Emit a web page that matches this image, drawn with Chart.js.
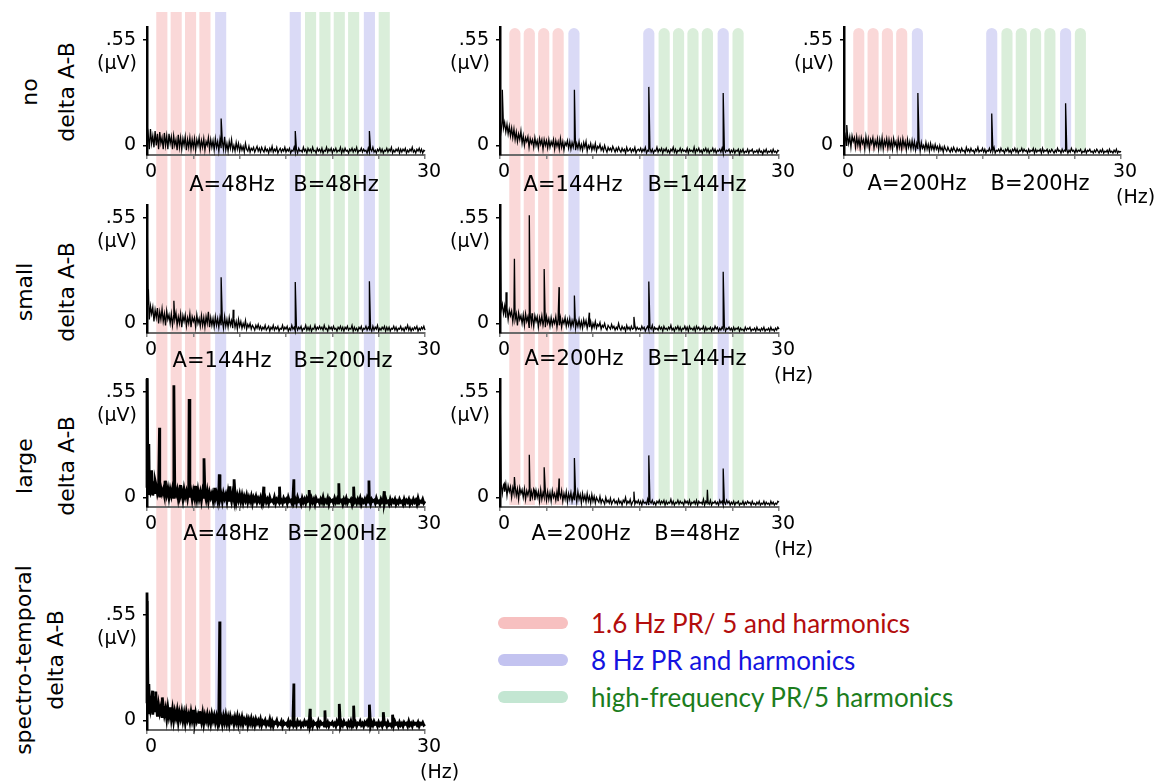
<!DOCTYPE html>
<html>
<head>
<meta charset="utf-8">
<script src="https://cdn.jsdelivr.net/npm/chart.js@4.4.1/dist/chart.umd.min.js"></script>
<style>
  html, body { margin: 0; padding: 0; background: #fff; }
  body { width: 1164px; height: 784px; position: relative; overflow: hidden; font-family: "DejaVu Sans", sans-serif; }
  canvas { position: absolute; }
  .bands { z-index: 0; }
  .panel { z-index: 2; }
  .txt { position: absolute; z-index: 1; white-space: nowrap; color: #000; line-height: 1; }
  .ab { font-size: 21px; transform: translate(-50%, -50%); }
  .rowlab { font-size: 22px; transform: translate(-50%, -50%) rotate(-90deg); }
  .swatch { position: absolute; width: 70px; height: 12px; border-radius: 6px; }
  .legtext { position: absolute; font-family: Lato, sans-serif; font-size: 26px; line-height: 1; transform: translateY(-50%); white-space: nowrap; }
</style>
</head>
<body>
<script>
// ---- data ----
const freqStep = 0.125;             // Hz between spectrum bins (0..30 Hz)
const xTickLabels = [0, 30];
const yTickValues = [0, 0.55];
const yTickLabels = ['0', '.55'];

// harmonic bands (Hz)
const bandPink = [1.6, 3.15, 4.7, 6.25];
const bandBlue = [7.95, 16.0, 24.0];
const bandGreen = [17.65, 19.2, 20.75, 22.3, 25.6];

const legendItems = ['1.6 Hz PR/ 5 and harmonics', '8 Hz PR and harmonics', 'high-frequency PR/5 harmonics'];
const rowTitles = [['no', 'delta A-B'], ['small', 'delta A-B'], ['large', 'delta A-B'], ['spectro-temporal', 'delta A-B']];

// noise floor, one value per bin (uV); 20 bins per line = 2.5 Hz
const noiseNo48 = [
  .02,.06,-.02,.085,.01,.05,-.01,.075,.00,.06,-.02,.07,.01,.04,-.02,.065,.00,.05,-.02,.06,
  .01,.045,-.02,.05,.00,.03,-.025,.055,-.01,.04,-.02,.035,.00,.045,-.025,.03,-.01,.04,-.02,.03,
  -.01,.035,-.025,.03,.00,.04,-.02,.025,-.01,.035,-.025,.02,.00,.04,-.02,.03,-.01,.025,-.025,.035,
  -.01,.02,-.03,.03,-.015,.025,-.02,.045,-.025,.01,-.03,.02,-.015,.03,-.025,.00,-.03,.015,-.02,.01,
  -.03,.00,-.025,-.005,-.035,.01,-.02,-.03,-.005,-.035,-.015,-.025,-.01,-.035,-.02,-.005,-.03,-.015,-.035,-.01,
  -.025,-.035,-.01,-.03,-.02,-.04,-.015,-.03,-.005,-.035,-.02,-.03,-.01,-.04,-.025,-.015,-.035,-.02,-.03,-.01,
  -.035,-.02,-.03,-.015,-.04,-.025,-.03,-.01,-.035,-.02,-.04,-.015,-.03,-.025,-.035,-.01,-.03,-.02,-.04,-.015,
  -.03,-.02,-.035,-.01,-.03,-.025,-.04,-.015,-.03,-.02,-.035,-.015,-.04,-.025,-.03,-.01,-.035,-.02,-.03,-.015,
  -.04,-.02,-.03,-.015,-.035,-.025,-.03,-.01,-.04,-.02,-.035,-.015,-.03,-.025,-.04,-.02,-.03,-.015,-.035,-.02,
  -.03,-.01,-.04,-.025,-.03,-.015,-.035,-.02,-.03,-.025,-.04,-.015,-.035,-.02,-.03,-.01,-.035,-.025,-.04,-.02,
  -.03,-.015,-.035,-.02,-.04,-.025,-.03,-.015,-.035,-.02,-.03,-.01,-.04,-.025,-.035,-.02,-.03,-.015,-.04,-.02,
  -.035,-.02,-.03,-.015,-.04,-.025,-.035,-.02,-.03,-.01,-.035,-.025,-.04,-.02,-.03,-.015,-.035,-.02,-.04,-.025,
  -.03
];
const noiseNo144 = [
  .03,.08,.13,.09,.12,.07,.11,.06,.10,.05,.09,.04,.085,.03,.07,.02,.06,.03,.075,.01,
  .05,.00,.04,.02,.045,-.01,.035,.01,.03,-.01,.04,.00,.025,-.015,.035,.005,.03,-.02,.03,.00,
  .025,-.015,.03,-.01,.02,.00,.03,-.02,.025,-.005,.02,-.02,.035,-.01,.02,-.025,.015,.00,.025,-.015,
  .02,-.02,.015,-.01,.025,-.025,.01,-.015,.02,-.02,.005,-.025,.015,-.01,.02,-.03,.00,-.015,.01,-.025,
  .00,-.02,.01,-.03,-.005,-.015,.005,-.025,-.01,-.03,.00,-.02,-.035,-.01,-.025,-.015,-.03,-.005,-.02,-.035,
  -.015,-.03,-.01,-.025,-.035,-.015,-.03,-.02,-.04,-.01,-.03,-.025,-.015,-.035,-.02,-.03,-.01,-.04,-.025,-.02,
  -.03,-.015,-.035,-.02,-.03,-.01,-.04,-.025,-.03,-.015,-.035,-.02,-.04,-.025,-.03,-.01,-.035,-.02,-.03,-.015,
  -.04,-.02,-.03,-.015,-.035,-.025,-.04,-.02,-.03,-.01,-.035,-.02,-.04,-.025,-.03,-.015,-.035,-.02,-.03,-.025,
  -.035,-.015,-.04,-.02,-.03,-.025,-.035,-.01,-.04,-.02,-.03,-.015,-.035,-.025,-.04,-.02,-.03,-.015,-.035,-.02,
  -.04,-.025,-.03,-.015,-.035,-.02,-.04,-.025,-.03,-.02,-.035,-.015,-.04,-.02,-.035,-.025,-.03,-.02,-.04,-.025,
  -.035,-.02,-.04,-.025,-.03,-.02,-.045,-.025,-.035,-.02,-.04,-.03,-.035,-.02,-.04,-.025,-.03,-.02,-.04,-.03,
  -.035,-.025,-.04,-.02,-.035,-.03,-.045,-.025,-.035,-.02,-.04,-.03,-.035,-.025,-.04,-.02,-.035,-.03,-.04,-.025,
  -.03
];
const noiseNo200 = [
  .02,.05,.00,.055,.01,.045,-.01,.05,.02,.04,-.01,.045,.00,.035,-.015,.04,.01,.03,-.02,.045,
  .00,.035,-.02,.03,.01,.04,-.015,.025,.00,.035,-.02,.03,-.01,.04,-.02,.025,.00,.035,-.015,.03,
  -.01,.025,-.02,.035,.00,.02,-.025,.03,-.01,.025,-.02,.035,-.005,.02,-.025,.03,-.01,.02,-.02,.025,
  -.015,.02,-.025,.01,-.02,.025,-.03,.015,-.015,.00,-.025,.015,-.02,.005,-.03,.01,-.02,.00,-.025,.005,
  -.02,-.005,-.03,.00,-.025,-.01,-.035,-.005,-.02,-.03,-.01,-.025,-.035,-.015,-.03,-.01,-.025,-.035,-.015,-.03,
  -.02,-.035,-.015,-.03,-.025,-.04,-.01,-.03,-.02,-.035,-.015,-.03,-.025,-.04,-.02,-.03,-.01,-.035,-.025,-.03,
  -.015,-.035,-.02,-.04,-.025,-.03,-.015,-.035,-.02,-.03,-.01,-.04,-.025,-.03,-.02,-.035,-.015,-.03,-.025,-.04,
  -.02,-.03,-.015,-.035,-.025,-.04,-.02,-.03,-.015,-.035,-.02,-.04,-.025,-.03,-.015,-.035,-.02,-.03,-.025,-.04,
  -.02,-.035,-.025,-.03,-.015,-.04,-.02,-.035,-.025,-.03,-.02,-.04,-.015,-.035,-.025,-.03,-.02,-.04,-.025,-.035,
  -.02,-.03,-.04,-.025,-.035,-.015,-.03,-.025,-.04,-.02,-.035,-.025,-.03,-.02,-.04,-.025,-.035,-.015,-.03,-.025,
  -.04,-.02,-.035,-.025,-.03,-.02,-.04,-.03,-.035,-.02,-.04,-.025,-.03,-.02,-.035,-.03,-.04,-.025,-.035,-.02,
  -.03,-.04,-.025,-.035,-.02,-.04,-.03,-.035,-.025,-.04,-.02,-.035,-.03,-.04,-.025,-.035,-.02,-.04,-.03,-.035,
  -.03
];
const noiseSmall144_200 = [
  .04,.10,.02,.09,.05,.085,.01,.07,.03,.08,.00,.06,.02,.075,.01,.05,-.01,.065,.02,.045,
  .00,.05,-.01,.04,.02,.055,-.01,.035,.00,.05,-.02,.04,.01,.045,-.015,.03,.00,.05,-.02,.035,
  .01,.03,-.02,.045,.00,.025,-.015,.04,-.01,.03,-.02,.035,.00,.06,-.02,.03,-.01,.025,-.02,.035,
  -.01,.025,-.02,.03,-.01,.02,-.025,.035,-.015,.02,-.02,.03,-.01,.015,-.025,.025,-.02,.01,-.03,.02,
  -.015,.01,-.025,.00,-.02,.015,-.03,-.005,-.02,.00,-.03,-.01,-.02,-.035,-.01,-.025,-.005,-.03,-.015,-.035,
  -.02,-.03,-.01,-.035,-.025,-.015,-.04,-.02,-.03,-.01,-.035,-.02,-.03,-.015,-.04,-.025,-.03,-.01,-.035,-.02,
  -.03,-.015,-.04,-.025,-.035,-.01,-.03,-.02,-.04,-.015,-.035,-.02,-.03,-.015,-.04,-.025,-.03,-.01,-.035,-.02,
  -.035,-.015,-.04,-.025,-.03,-.01,-.035,-.02,-.03,-.015,-.03,-.02,-.035,-.01,-.03,-.025,-.04,-.015,-.03,-.02,
  -.035,-.015,-.03,-.025,-.04,-.02,-.03,-.015,-.035,-.02,-.04,-.02,-.03,-.015,-.035,-.025,-.03,-.01,-.04,-.02,
  -.035,-.025,-.04,-.02,-.03,-.015,-.04,-.025,-.03,-.015,-.035,-.02,-.03,-.025,-.04,-.015,-.035,-.02,-.03,-.01,
  -.04,-.025,-.035,-.02,-.03,-.015,-.04,-.02,-.035,-.02,-.04,-.025,-.03,-.015,-.035,-.02,-.04,-.025,-.03,-.015,
  -.035,-.025,-.04,-.02,-.03,-.01,-.035,-.02,-.04,-.025,-.035,-.02,-.03,-.015,-.04,-.025,-.035,-.02,-.03,-.015,
  -.035
];
const noiseSmall200_144 = [
  .03,.07,.10,.05,.09,.03,.08,.02,.07,.04,.065,.01,.06,.02,.05,-.01,.055,.02,.04,.00,
  .045,-.01,.05,.01,.035,-.02,.045,.00,.03,-.015,.04,.01,.035,-.02,.03,.00,.04,-.01,.025,-.02,
  .035,.00,.025,-.015,.03,-.01,.02,.00,.035,-.02,.025,-.01,.03,-.02,.02,.00,.03,-.015,.02,-.01,
  .025,-.02,.015,-.01,.03,-.025,.01,-.015,.02,-.02,.01,-.025,.02,-.01,.015,-.025,.005,-.02,.01,-.03,
  .00,-.02,.01,-.025,-.005,-.015,.005,-.03,-.01,-.02,.00,-.025,-.035,-.01,-.02,-.03,-.005,-.025,-.015,-.035,
  -.02,-.03,.00,-.025,-.035,-.015,-.03,-.02,-.04,-.01,-.03,-.02,-.035,-.015,-.03,-.025,-.01,-.035,-.02,-.03,
  -.025,-.035,-.015,-.03,-.02,-.04,-.025,-.015,-.035,-.02,-.03,-.01,-.04,-.02,-.03,-.025,-.035,-.015,-.03,-.02,
  -.04,-.015,-.03,-.025,-.035,-.02,-.03,-.01,-.035,-.025,-.04,-.02,-.03,-.015,-.035,-.02,-.04,-.025,-.03,-.015,
  -.035,-.02,-.04,-.015,-.03,-.025,-.035,-.02,-.04,-.015,-.03,-.02,-.035,-.025,-.03,-.015,-.04,-.02,-.035,-.025,
  -.03,-.02,-.04,-.025,-.035,-.015,-.03,-.02,-.04,-.025,-.035,-.02,-.03,-.015,-.04,-.025,-.03,-.02,-.035,-.025,
  -.04,-.02,-.035,-.025,-.03,-.02,-.04,-.025,-.035,-.03,-.04,-.02,-.035,-.025,-.03,-.02,-.04,-.03,-.035,-.025,
  -.04,-.02,-.035,-.03,-.04,-.025,-.035,-.02,-.04,-.03,-.035,-.025,-.04,-.02,-.035,-.03,-.04,-.025,-.035,-.02,
  -.03
];
const noiseLarge48_200 = [
  .05,.02,.06,.03,.055,.01,.05,.025,.06,.02,.045,.00,.05,.02,.04,.01,.055,.015,.045,.00,
  .04,.01,.045,.00,.035,.015,.04,-.005,.035,.01,.03,-.01,.04,.005,.03,-.005,.035,.00,.03,-.01,
  .03,.00,.025,-.01,.035,-.005,.025,-.015,.03,.00,.02,-.01,.03,-.015,.025,.00,.02,-.015,.03,-.005,
  .02,-.015,.025,-.01,.015,-.02,.02,-.005,.015,-.02,.025,-.015,.01,-.02,.02,-.01,.015,-.025,.01,-.015,
  .015,-.02,.01,-.025,.005,-.015,.01,-.025,.00,-.02,.005,-.03,.00,-.015,.005,-.025,-.005,-.02,.00,-.03,
  -.005,-.02,.00,-.025,-.01,-.03,.00,-.02,-.015,-.025,.00,-.03,-.01,-.02,.005,-.025,-.015,-.03,-.005,-.02,
  -.01,-.03,.00,-.02,-.015,-.03,-.005,-.025,-.01,-.03,.00,-.02,-.015,-.035,-.005,-.025,-.01,-.03,-.005,-.02,
  -.015,-.03,-.005,-.025,-.01,-.035,-.005,-.02,-.015,-.03,-.01,-.025,.00,-.03,-.015,-.025,-.005,-.035,-.01,-.02,
  -.015,-.03,-.005,-.025,-.01,-.03,-.005,-.02,-.015,-.035,-.01,-.025,-.005,-.03,-.015,-.02,-.01,-.035,-.005,-.025,
  -.015,-.03,-.01,-.025,-.005,-.035,-.015,-.025,-.01,-.03,-.005,-.025,-.015,-.035,-.01,-.02,-.015,-.03,-.005,-.025,
  -.02,-.035,-.01,-.025,-.015,-.03,-.005,-.025,-.02,-.035,-.01,-.03,-.015,-.025,-.01,-.035,-.02,-.03,-.01,-.025,
  -.02,-.035,-.01,-.03,-.015,-.025,-.01,-.035,-.02,-.03,-.01,-.025,-.015,-.035,-.005,-.03,-.02,-.025,-.01,-.03,
  -.02
];
const noiseLarge200_48 = [
  .04,.07,.02,.065,.03,.07,.01,.06,.03,.055,.00,.05,.02,.06,.01,.045,-.01,.05,.02,.04,
  .00,.045,-.01,.035,.01,.04,-.02,.03,.00,.045,-.015,.035,.00,.03,-.02,.04,-.01,.025,.00,.035,
  -.015,.03,-.01,.025,-.02,.035,.00,.02,-.015,.03,-.02,.025,.00,.035,-.02,.02,-.01,.03,-.025,.02,
  -.01,.025,-.02,.015,-.015,.02,-.025,.03,-.01,.015,-.03,.02,-.015,.01,-.025,.02,-.02,.005,-.03,.015,
  -.02,.005,-.03,.00,-.015,-.025,.005,-.03,-.01,-.02,-.035,.00,-.025,-.015,-.03,-.005,-.035,-.02,-.01,-.03,
  -.02,-.035,-.01,-.03,-.02,-.04,-.015,-.025,.00,-.035,-.02,-.03,-.01,-.04,-.025,-.015,-.035,-.02,-.03,-.015,
  -.035,-.02,-.04,-.015,-.03,-.025,-.035,-.01,-.04,-.02,-.03,-.015,-.035,-.025,-.04,-.02,-.03,-.015,-.035,-.02,
  -.03,-.015,-.04,-.02,-.035,-.025,-.03,-.01,-.035,-.02,-.04,-.025,-.03,-.015,-.035,-.02,-.03,-.025,-.04,-.015,
  -.03,-.02,-.035,-.015,-.04,-.025,-.03,-.02,-.035,-.015,-.04,-.02,-.03,-.025,-.035,-.01,-.04,-.02,-.03,-.025,
  -.035,-.015,-.04,-.025,-.03,-.02,-.035,-.025,-.04,-.015,-.03,-.02,-.04,-.025,-.035,-.015,-.03,-.02,-.04,-.025,
  -.035,-.02,-.04,-.025,-.03,-.02,-.04,-.03,-.035,-.02,-.04,-.025,-.035,-.02,-.03,-.025,-.04,-.02,-.035,-.03,
  -.04,-.025,-.035,-.02,-.04,-.03,-.035,-.02,-.04,-.025,-.035,-.03,-.04,-.02,-.035,-.025,-.04,-.03,-.035,-.02,
  -.025
];
const noiseSpectro48_200 = [
  .09,.04,.11,.06,.10,.03,.09,.05,.085,.02,.08,.04,.07,.02,.075,.03,.06,.01,.065,.02,
  .05,.01,.055,.00,.045,.015,.05,-.005,.04,.01,.045,.00,.035,-.01,.04,.005,.03,-.005,.04,.00,
  .03,-.01,.035,.00,.025,-.01,.03,-.005,.035,-.015,.025,.00,.03,-.01,.02,-.015,.03,.00,.025,-.01,
  .02,-.015,.025,-.005,.015,-.02,.02,-.01,.025,-.015,.015,-.02,.02,-.005,.01,-.02,.015,-.01,.02,-.02,
  .01,-.015,.015,-.02,.005,-.01,.01,-.025,.005,-.015,.01,-.02,.00,-.025,.005,-.015,.00,-.02,.005,-.025,
  -.005,-.015,.00,-.025,-.01,-.02,.005,-.025,-.005,-.03,-.01,-.015,.00,-.025,-.015,-.02,-.005,-.03,-.01,-.02,
  -.015,-.025,-.005,-.03,-.01,-.02,.00,-.025,-.015,-.03,-.005,-.02,-.01,-.03,-.015,-.025,-.005,-.02,-.01,-.03,
  -.015,-.025,-.005,-.03,-.01,-.02,-.015,-.03,-.005,-.025,-.01,-.02,-.015,-.03,-.005,-.025,-.01,-.03,-.015,-.02,
  -.01,-.025,-.015,-.03,-.005,-.02,-.015,-.03,-.01,-.025,-.005,-.02,-.015,-.03,-.01,-.025,-.005,-.03,-.015,-.02,
  -.01,-.03,-.015,-.02,-.005,-.025,-.015,-.03,-.01,-.02,-.005,-.025,-.015,-.03,-.01,-.025,-.005,-.02,-.015,-.03,
  -.01,-.025,-.015,-.03,-.005,-.02,-.015,-.03,-.01,-.025,-.02,-.03,-.01,-.025,-.005,-.02,-.015,-.03,-.01,-.025,
  -.015,-.03,-.01,-.02,-.015,-.03,-.005,-.025,-.015,-.03,-.01,-.02,-.015,-.025,-.01,-.03,-.015,-.02,-.01,-.025,
  -.02
];

// spectral peaks [Hz, uV]
const peaksNo48 = [[8, .14], [16, .075], [24, .075]];
const peaksNo144 = [[0.25, .29], [8, .29], [16, .305], [24, .273]];
const peaksNo200 = [[0.3, .106], [8, .273], [16, .166], [24, .22]];
const peaksSmall144_200 = [[0, .61], [0.15, .178], [2.9, .118], [8, .24], [9.3, .071], [16, .216], [24, .22]];
const peaksSmall200_144 = [[0, .61], [0.65, .162], [1.55, .337], [3.15, .564], [3.45, .053], [4.75, .283],
  [6.35, .189], [8, .145], [9.6, .056], [14.4, .034], [16, .218], [24, .269]];
const peaksLarge48_200 = [[0, .618], [0.2, .278], [0.5, .141], [0.9, .082], [1.35, .363], [1.95, .087],
  [2.9, .584], [3.6, .065], [4.55, .513], [5.2, .06], [6.15, .204], [7.3, .05], [7.8, .12], [8.95, .058],
  [9.4, .094], [12.6, .056], [14.3, .056], [15.85, .094], [17.5, .038], [20.7, .074], [22.3, .056],
  [23.95, .088], [25.6, .032]];
const peaksLarge200_48 = [[0, .609], [0.45, .072], [1.55, .106], [3.15, .222], [3.7, .037], [4.75, .157],
  [6.35, .099], [8, .205], [14.4, .03], [16, .219], [22.3, .04], [24, .15]];
const peaksSpectro48_200 = [[0, .667], [0.2, .189], [0.6, .155], [0.95, .15], [1.65, .12], [2.5, .069],
  [5.0, .055], [5.7, .048], [7.85, .515], [15.85, .192], [17.6, .06], [19.2, .052], [20.75, .086],
  [22.3, .077], [24, .082], [25.5, .043], [26.5, .03]];

// ---- layout ----
const COLS = [{ left: 147, right: 425 }, { left: 500, right: 779 }, { left: 844, right: 1121 }];
const ROW_BOTTOM = [155, 333, 507, 730];
const PLOT_H = 130, Y_AXIS_W = 62, X_AXIS_H = 30, PAD_T = 16, PAD_R = 50, PAD_B = 34;
const Y_MIN = -0.05, Y_MAX = 0.615;
const BAND_W = 1.2; // Hz
const BAND_SPAN = [
  { top: 12, bottom: 717, round: 'none' },
  { top: 28, bottom: 505, round: 'top' },
  { top: 28, bottom: 151, round: 'both' }
];
const BAND_COLORS = { pink: '#fad8d8', blue: '#dadaf6', green: '#daeeda' };
const TICK_FONT = { family: 'DejaVu Sans', size: 19 };

const panels = [
  { col: 0, row: 0, noise: noiseNo48, peaks: peaksNo48, thick: false, hz: false, ab: [['A=48Hz', 232, 184], ['B=48Hz', 336, 184]] },
  { col: 1, row: 0, noise: noiseNo144, peaks: peaksNo144, thick: false, hz: false, ab: [['A=144Hz', 573, 184], ['B=144Hz', 697, 184]] },
  { col: 2, row: 0, noise: noiseNo200, peaks: peaksNo200, thick: false, hz: true, ab: [['A=200Hz', 917, 183], ['B=200Hz', 1040, 183]] },
  { col: 0, row: 1, noise: noiseSmall144_200, peaks: peaksSmall144_200, thick: false, hz: false, ab: [['A=144Hz', 222, 360], ['B=200Hz', 343, 360]] },
  { col: 1, row: 1, noise: noiseSmall200_144, peaks: peaksSmall200_144, thick: false, hz: true, ab: [['A=200Hz', 574, 358], ['B=144Hz', 697, 358]] },
  { col: 0, row: 2, noise: noiseLarge48_200, peaks: peaksLarge48_200, thick: true, hz: false, ab: [['A=48Hz', 226, 533], ['B=200Hz', 337, 533]] },
  { col: 1, row: 2, noise: noiseLarge200_48, peaks: peaksLarge200_48, thick: false, hz: true, ab: [['A=200Hz', 581, 533], ['B=48Hz', 697, 533]] },
  { col: 0, row: 3, noise: noiseSpectro48_200, peaks: peaksSpectro48_200, thick: true, hz: true, ab: [] }
];

Chart.defaults.font.family = 'DejaVu Sans';
Chart.defaults.color = '#000';

function addText(cls, text, x, y) {
  const d = document.createElement('div');
  d.className = 'txt ' + cls;
  d.textContent = text;
  d.style.left = x + 'px';
  d.style.top = y + 'px';
  document.body.appendChild(d);
  return d;
}

function spectrum(noise, peaks) {
  const pts = noise.map((v, i) => ({ x: i * freqStep, y: v }));
  peaks.forEach(([f, a]) => pts.push({ x: f, y: a }));
  pts.sort((p, q) => p.x - q.x);
  return pts;
}

// bands drawn behind each column of panels
function makeBands(c) {
  const L = COLS[c], S = BAND_SPAN[c];
  const cv = document.createElement('canvas');
  cv.className = 'bands';
  cv.width = L.right - L.left;
  cv.height = S.bottom - S.top;
  cv.style.left = L.left + 'px';
  cv.style.top = S.top + 'px';
  document.body.appendChild(cv);

  const bandPlugin = {
    id: 'bands',
    beforeDraw(chart) {
      const { ctx, chartArea, scales: { x } } = chart;
      const groups = [[bandPink, BAND_COLORS.pink], [bandBlue, BAND_COLORS.blue], [bandGreen, BAND_COLORS.green]];
      ctx.save();
      groups.forEach(([centers, color]) => {
        ctx.fillStyle = color;
        centers.forEach(f => {
          const x0 = x.getPixelForValue(f - BAND_W / 2);
          const x1 = x.getPixelForValue(f + BAND_W / 2);
          const r = (x1 - x0) / 2;
          const radii = S.round === 'both' ? [r, r, r, r] : S.round === 'top' ? [r, r, 0, 0] : [0, 0, 0, 0];
          ctx.beginPath();
          ctx.roundRect(x0, chartArea.top, x1 - x0, chartArea.bottom - chartArea.top, radii);
          ctx.fill();
        });
      });
      ctx.restore();
    }
  };

  new Chart(cv, {
    type: 'scatter',
    data: { datasets: [] },
    options: {
      responsive: false, animation: false, devicePixelRatio: 1,
      layout: { padding: 0 },
      plugins: { legend: { display: false }, tooltip: { enabled: false } },
      scales: {
        x: { type: 'linear', min: 0, max: 30, display: false },
        y: { min: 0, max: 1, display: false }
      }
    },
    plugins: [bandPlugin]
  });
}

function makePanel(p) {
  const L = COLS[p.col];
  const bottom = ROW_BOTTOM[p.row];
  const cv = document.createElement('canvas');
  cv.className = 'panel';
  cv.width = Y_AXIS_W + (L.right - L.left) + PAD_R;
  cv.height = PAD_T + PLOT_H + X_AXIS_H + PAD_B;
  cv.style.left = (L.left - Y_AXIS_W) + 'px';
  cv.style.top = (bottom - PLOT_H - PAD_T) + 'px';
  document.body.appendChild(cv);

  const unitPlugin = {
    id: 'units',
    afterDraw(chart) {
      const { ctx, chartArea, scales: { x, y } } = chart;
      ctx.save();
      ctx.font = TICK_FONT.size + 'px "DejaVu Sans"';
      ctx.fillStyle = '#000';
      ctx.textBaseline = 'middle';
      ctx.textAlign = 'right';
      ctx.fillText('(\u03BCV)', chartArea.left - 10, y.getPixelForValue(0.55) + 24);
      if (p.hz) {
        ctx.textAlign = 'left';
        ctx.fillText('(Hz)', x.getPixelForValue(30) - 5, chartArea.bottom + 43);
      }
      ctx.restore();
    }
  };

  new Chart(cv, {
    type: 'line',
    data: {
      datasets: [{
        data: spectrum(p.noise, p.peaks),
        borderColor: '#000',
        borderWidth: p.thick ? 2.8 : 1.3,
        pointRadius: 0,
        tension: 0,
        fill: false,
        clip: false
      }]
    },
    options: {
      responsive: false, animation: false, devicePixelRatio: 1,
      layout: { padding: { top: PAD_T, right: PAD_R, bottom: PAD_B, left: 0 } },
      plugins: { legend: { display: false }, tooltip: { enabled: false } },
      scales: {
        x: {
          type: 'linear', min: 0, max: 30,
          afterFit: s => { s.height = X_AXIS_H; },
          ticks: {
            stepSize: 5, autoSkip: false, maxRotation: 0, padding: 2, labelOffset: 4,
            font: TICK_FONT, color: '#000',
            callback: v => xTickLabels.includes(v) ? String(v) : ''
          },
          grid: { drawOnChartArea: false, drawTicks: true, tickLength: 4, color: '#808080', lineWidth: 1.5 },
          border: { display: true, color: '#6a6a6a', width: 2 }
        },
        y: {
          min: Y_MIN, max: Y_MAX,
          afterFit: s => { s.width = Y_AXIS_W; },
          afterBuildTicks: s => { s.ticks = yTickValues.map(v => ({ value: v })); },
          ticks: {
            padding: 7, font: TICK_FONT, color: '#000',
            callback: (v, i) => yTickLabels[i]
          },
          grid: { drawOnChartArea: false, drawTicks: true, tickLength: 4, color: '#000', lineWidth: 1.5 },
          border: { display: true, color: '#000', width: 2.5 }
        }
      }
    },
    plugins: [unitPlugin]
  });

  p.ab.forEach(([t, x, y]) => addText('ab', t, x, y));
}

[0, 1, 2].forEach(makeBands);
panels.forEach(makePanel);

// row titles (rotated), [line1 centre x, line2 centre x, centre y]
const rowTitlePos = [[30, 67, 92], [25, 67, 292], [25, 67, 466], [24, 56, 660]];
rowTitles.forEach((lines, r) => {
  const [x1, x2, cy] = rowTitlePos[r];
  addText('rowlab', lines[0], x1, cy);
  addText('rowlab', lines[1], x2, cy);
});

// legend
const legendSwatch = ['#f7c0c0', '#c3c3f0', '#c3e6d2'];
const legendColor = ['#b30d0d', '#1414e0', '#1c7d1c'];
const legendY = [623, 660, 697];
legendItems.forEach((t, i) => {
  const sw = document.createElement('div');
  sw.className = 'swatch';
  sw.style.left = '498px';
  sw.style.top = (legendY[i] - 6) + 'px';
  sw.style.background = legendSwatch[i];
  document.body.appendChild(sw);
  const tx = document.createElement('div');
  tx.className = 'legtext';
  tx.textContent = t;
  tx.style.left = '591px';
  tx.style.top = legendY[i] + 'px';
  tx.style.color = legendColor[i];
  document.body.appendChild(tx);
});
</script>
</body>
</html>
